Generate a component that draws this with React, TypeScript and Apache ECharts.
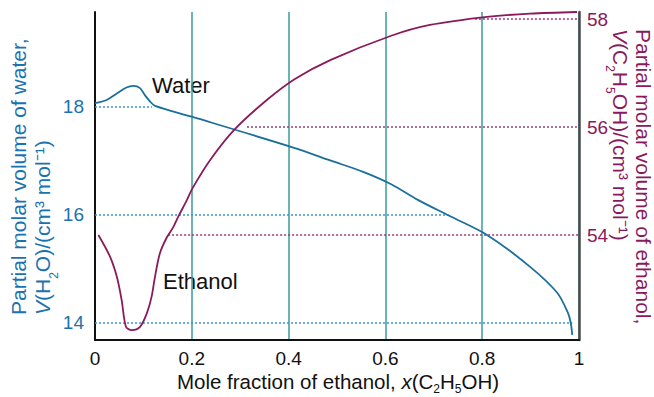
import React, { useEffect, useRef } from "react";
import * as echarts from "echarts";

// ---- data ----
const xTicks = [0, 0.2, 0.4, 0.6, 0.8, 1];
const waterTicks = [14, 16, 18];
const ethanolTicks = [54, 56, 58];

// Partial molar volume of water (cm3/mol) vs mole fraction of ethanol
const waterCurve: [number, number][] = [
  [0, 18.07], [0.024, 18.13], [0.045, 18.25], [0.065, 18.36], [0.079, 18.39],
  [0.093, 18.35], [0.103, 18.22], [0.114, 18.1], [0.124, 18.02], [0.2, 17.82],
  [0.413, 17.24], [0.486, 17.01], [0.554, 16.8], [0.612, 16.57], [0.667, 16.28],
  [0.733, 15.98], [0.81, 15.63], [0.899, 15.04], [0.955, 14.56], [0.977, 14.19],
  [0.983, 14.0], [0.986, 13.78],
];

// Partial molar volume of ethanol (cm3/mol) vs mole fraction of ethanol
const ethanolCurve: [number, number][] = [
  [0.007, 54.0], [0.031, 53.6], [0.045, 53.23], [0.055, 52.8], [0.064, 52.3],
  [0.076, 52.24], [0.093, 52.3], [0.107, 52.55], [0.117, 52.86], [0.124, 53.23],
  [0.134, 53.66], [0.148, 53.95], [0.162, 54.15], [0.172, 54.34], [0.19, 54.65],
  [0.201, 54.86], [0.238, 55.39], [0.289, 55.96], [0.355, 56.5], [0.413, 56.89],
  [0.486, 57.24], [0.612, 57.69], [0.692, 57.89], [0.81, 58.04], [0.899, 58.1],
  [0.996, 58.13],
];

// dotted guide lines: level and where they meet the curve
const waterGuideLevels = [18, 16, 14];
const waterGuideEnds = [0.118, 0.733, 0.986];
const ethanolGuideLevels = [58, 56, 54];
const ethanolGuideStarts = [0.785, 0.314, 0.151];

// ---- styles ----
const FONT = '"Liberation Sans", Arial, sans-serif';
const BLUE_TEXT = "#1b72b0";
const BLUE_LINE = "#1a6f9c";
const BLUE_DOT = "#3f93c9";
const MAROON = "#8a1a5c";
const MAROON_DOT = "#9a3a72";
const TEAL = "#3a9b9b";

function richStyles(color: string, size: number, lh: number) {
  return {
    t: { fontSize: size, fontFamily: FONT, fill: color, lineHeight: lh, verticalAlign: "middle" },
    i: { fontSize: size, fontFamily: FONT, fontStyle: "italic", fill: color, lineHeight: lh, verticalAlign: "middle" },
    s: { fontSize: 12, fontFamily: FONT, fill: color, lineHeight: 12, verticalAlign: "bottom" },
  };
}

export default function App() {
  const ref = useRef<HTMLDivElement>(null);

  useEffect(() => {
    const chart = echarts.init(ref.current!, null, { renderer: "svg" });

    const waterGuides = waterGuideLevels.map((lv, i) => ({
      type: "line",
      yAxisIndex: 0,
      data: [[0, lv], [waterGuideEnds[i], lv]],
      symbol: "none",
      silent: true,
      z: 1,
      lineStyle: { color: BLUE_DOT, width: 1.5, type: [2, 2] },
    }));
    const ethanolGuides = ethanolGuideLevels.map((lv, i) => ({
      type: "line",
      yAxisIndex: 1,
      data: [[ethanolGuideStarts[i], lv], [1, lv]],
      symbol: "none",
      silent: true,
      z: 1,
      lineStyle: { color: MAROON_DOT, width: 1.5, type: [2, 2] },
    }));

    chart.setOption({
      animation: false,
      grid: { left: 95, right: 75, top: 12, bottom: 57, containLabel: false },
      xAxis: {
        type: "value",
        min: xTicks[0],
        max: xTicks[xTicks.length - 1],
        interval: 0.2,
        axisLine: { show: true, lineStyle: { color: "#111", width: 2 } },
        axisTick: { show: false },
        axisLabel: {
          fontSize: 19, lineHeight: 16, fontFamily: FONT, color: "#111", margin: 10.5,
          formatter: (v: number) => String(Number(v.toFixed(1))),
        },
        splitLine: { show: true, lineStyle: { color: TEAL, width: 1.5 } },
      },
      yAxis: [
        {
          type: "value",
          position: "left",
          min: 13.685,
          max: 19.759,
          axisLine: { show: true, onZero: false, lineStyle: { color: "#111", width: 2 } },
          axisTick: { show: false },
          splitLine: { show: false },
          axisLabel: { customValues: waterTicks, fontSize: 19, fontFamily: FONT, color: BLUE_TEXT, margin: 11 },
        },
        {
          type: "value",
          position: "right",
          min: 52.056,
          max: 58.13,
          axisLine: { show: true, onZero: false, lineStyle: { color: "#4a4a4a", width: 2.5 } },
          axisTick: { show: false },
          splitLine: { show: false },
          axisLabel: { customValues: ethanolTicks, fontSize: 19, fontFamily: FONT, color: MAROON, margin: 8 },
        },
      ],
      series: [
        ...waterGuides,
        ...ethanolGuides,
        {
          name: "Water",
          type: "line",
          yAxisIndex: 0,
          data: waterCurve,
          smooth: 0.3,
          symbol: "none",
          clip: false,
          z: 3,
          lineStyle: { color: BLUE_LINE, width: 1.8 },
        },
        {
          name: "Ethanol",
          type: "line",
          yAxisIndex: 1,
          data: ethanolCurve,
          smooth: 0.3,
          symbol: "none",
          clip: false,
          z: 3,
          lineStyle: { color: MAROON, width: 1.8 },
        },
      ],
      graphic: [
        {
          type: "text", x: 152, y: 85.4,
          style: { text: "Water", fontSize: 22, fontFamily: FONT, fill: "#111", align: "left", verticalAlign: "middle" },
        },
        {
          type: "text", x: 163, y: 281.4,
          style: { text: "Ethanol", fontSize: 22, fontFamily: FONT, fill: "#111", align: "left", verticalAlign: "middle" },
        },
        {
          type: "text", x: 338, y: 381,
          style: {
            text: "{t|Mole fraction of ethanol, }{i|x}{t|(C}{s|2}{t|H}{s|5}{t|OH)}",
            align: "center", verticalAlign: "middle", fontSize: 20.5, fontFamily: FONT, fill: "#111",
            rich: richStyles("#111", 20.5, 28),
          },
        },
        {
          type: "text", x: 18.5, y: 315, rotation: Math.PI / 2,
          style: {
            text: "Partial molar volume of water,",
            align: "left", verticalAlign: "middle", fontSize: 21, lineHeight: 20, fontFamily: FONT, fill: BLUE_TEXT,
          },
        },
        {
          type: "text", x: 42.5, y: 315, rotation: Math.PI / 2,
          style: {
            text: "{i|V}{t|(H}{s|2}{t|O)/(cm³ mol⁻¹)}",
            align: "left", verticalAlign: "middle", fontSize: 21, fontFamily: FONT, fill: BLUE_TEXT,
            rich: richStyles(BLUE_TEXT, 21, 34),
          },
        },
        {
          type: "text", x: 643.5, y: 29, rotation: -Math.PI / 2,
          style: {
            text: "Partial molar volume of ethanol,",
            align: "left", verticalAlign: "middle", fontSize: 21, lineHeight: 20, fontFamily: FONT, fill: MAROON,
          },
        },
        {
          type: "text", x: 620.5, y: 29, rotation: -Math.PI / 2,
          style: {
            text: "{i|V}{t|(C}{s|2}{t|H}{s|5}{t|OH)/(cm³ mol⁻¹)}",
            align: "left", verticalAlign: "middle", fontSize: 21, fontFamily: FONT, fill: MAROON,
            rich: richStyles(MAROON, 21, 34),
          },
        },
      ],
    });

    return () => chart.dispose();
  }, []);

  return (
    <div
      ref={ref}
      style={{ position: "absolute", left: 0, top: 0, width: 654, height: 397 }}
    />
  );
}
